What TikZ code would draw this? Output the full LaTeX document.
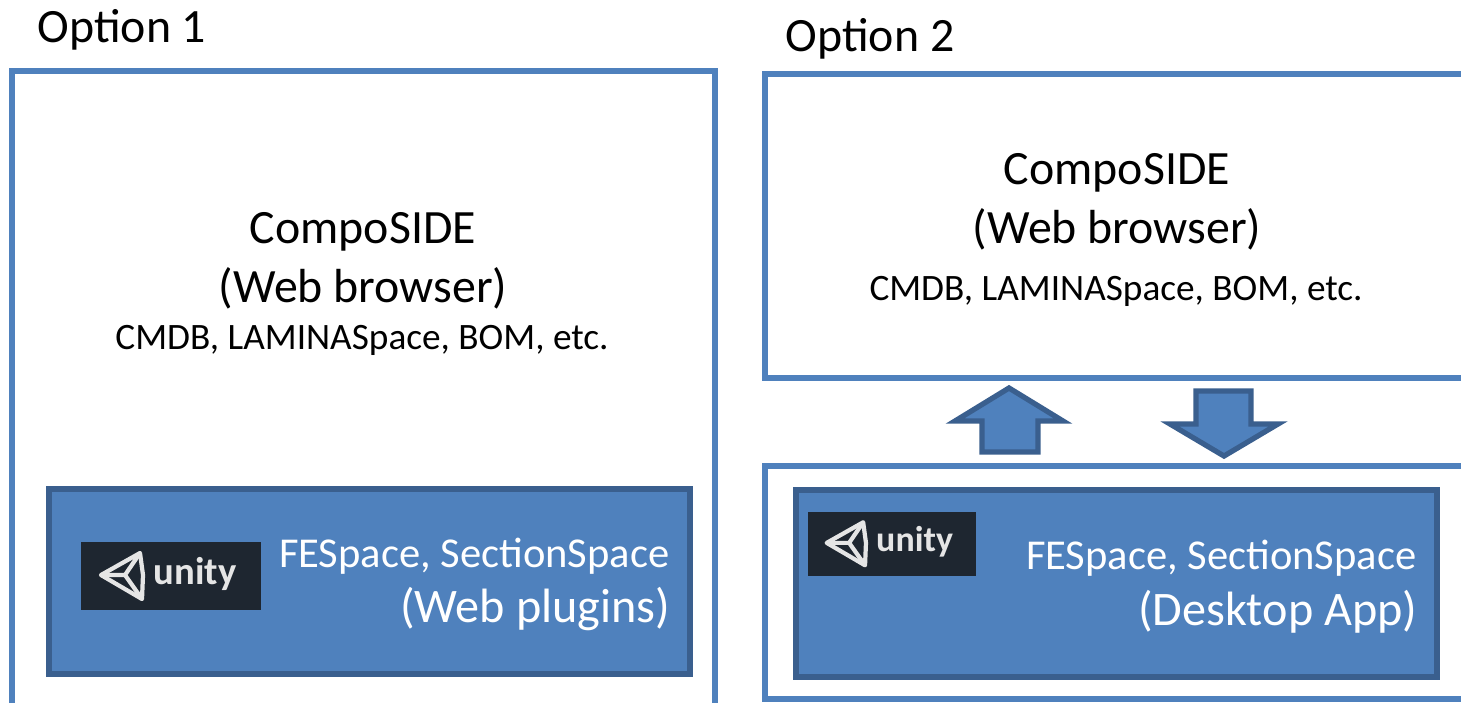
\documentclass[tikz,border=0pt]{standalone}
\usepackage{fontspec}
\setmainfont{Carlito}
\definecolor{boxblue}{HTML}{4F81BD}
\definecolor{edgeblue}{HTML}{3A5F8E}
\definecolor{unitydark}{HTML}{1E2630}
\tikzset{
	panel/.style={draw=boxblue, line width=1.45pt},
	appbox/.style={draw=edgeblue, fill=boxblue, line width=1.45pt},
	blockarrow/.style={draw=edgeblue, fill=boxblue, line width=1.5pt, miter limit=10},
	bigtext/.style={font=\fontsize{13.6}{16}\selectfont, inner sep=0pt},
	smalltext/.style={font=\fontsize{10.6}{12}\selectfont, inner sep=0pt},
	whitetext/.style={font=\fontsize{12.1}{14}\selectfont, text=white, inner sep=0pt, anchor=east},
	unitylogo/.pic={
		\fill[unitydark] (0,0) rectangle (180,68);
		\draw[white!90!black, line width=1.2pt, line join=round] (20,33) -- (59,11) -- (62,33) -- (61,57) -- cycle;
		\draw[white!90!black, line width=1.2pt] (20,33) -- (44,33) -- (59,11) (44,33) -- (61,57);
		\node[text=white!90!black, font=\fontsize{#1}{12}\selectfont\bfseries, inner sep=0pt] at (114,32) {unity};
	}
}
\begin{document}
\begin{tikzpicture}[x=0.01cm, y=-0.01cm]
	\useasboundingbox (0,0) rectangle (1461,702);
	\clip (0,0) rectangle (1461,702);

	% option 1
	\node[bigtext, anchor=base west] (optone) at (37,42) {Option 1};
	\draw[panel] (12,730) -- (12,71) -- (715,71) -- (715,730);
	\node[bigtext] (sideone) at (363,232) {CompoSIDE};
	\node[bigtext] (browserone) at (363,288) {(Web browser)};
	\node[smalltext] (listone) at (362,340) {CMDB, LAMINASpace, BOM, etc.};
	\draw[appbox] (49,489) rectangle (690,674);
	\pic at (81,542) {unitylogo=11};
	\node[whitetext] (spaceone) at (670,556) {FESpace, SectionSpace};
	\node[whitetext, font=\fontsize{13.7}{16}\selectfont] (plugin) at (671,609) {(Web plugins)};

	% option 2
	\node[bigtext, anchor=base west] (opttwo) at (785,51) {Option 2};
	\draw[panel] (1490,74) -- (765,74) -- (765,378) -- (1490,378);
	\node[bigtext] (sidetwo) at (1117,173) {CompoSIDE};
	\node[bigtext] (browsertwo) at (1117,229) {(Web browser)};
	\node[smalltext] (listtwo) at (1116,291) {CMDB, LAMINASpace, BOM, etc.};
	\draw[blockarrow] (1009,388) -- (1063,421) -- (1038,421) -- (1038,452) -- (982,452) -- (982,421) -- (955,421) -- cycle;
	\draw[blockarrow] (1196,391) -- (1251,391) -- (1251,424) -- (1278,424) -- (1224,456) -- (1170,424) -- (1196,424) -- cycle;
	\draw[panel] (1490,466) -- (765,466) -- (765,699) -- (1490,699);
	\draw[appbox] (796,490) rectangle (1437,677);
	\pic[scale=0.935] at (808,512) {unitylogo=10.2};
	\node[whitetext] (spacetwo) at (1417,558) {FESpace, SectionSpace};
	\node[whitetext, font=\fontsize{13.7}{16}\selectfont] (desktop) at (1418,612) {(Desktop App)};
\end{tikzpicture}
\end{document}
